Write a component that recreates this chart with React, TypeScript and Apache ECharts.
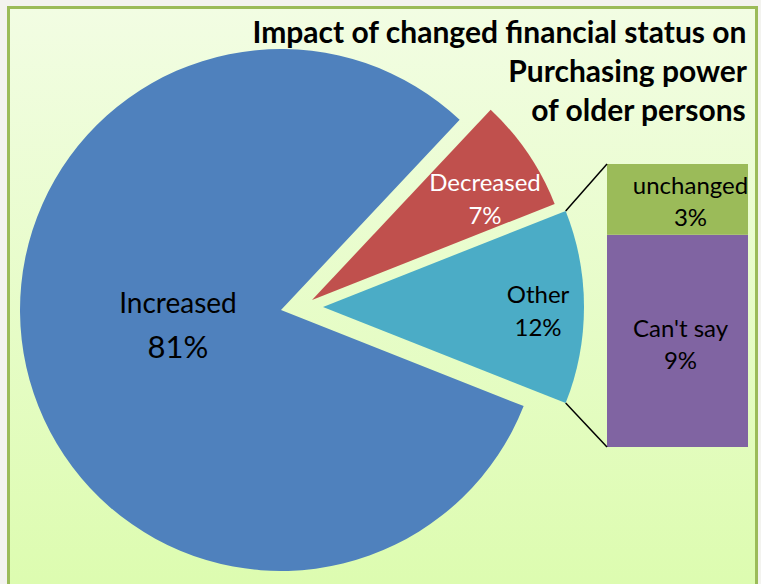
import React, { useEffect, useRef } from "react";
import * as echarts from "echarts";

// Main pie (Other holds the breakdown shown in the bar)
const PIE_CATS = ["Other", "Increased", "Decreased"];
const PIE_VALS = [12, 81, 7];
const PIE_COLORS = ["#4BACC6", "#4F81BD", "#C0504D"];
const PIE_LABEL_COLORS = ["#000000", "#000000", "#FFFFFF"];

// Breakdown of "Other" (bottom to top)
const BAR_CATS = ["Can't say", "unchanged"];
const BAR_VALS = [9, 3];
const BAR_COLORS = ["#8064A2", "#9BBB59"];

const TITLE_LINES = ["Impact of changed financial status on", "Purchasing power", "of older persons"];

// layout
const R = 261;
const CENTERS: [number, number][] = [
  [323, 307],
  [281, 310],
  [312, 300],
];
const LABEL_POS: [number, number][] = [
  [538, 310],
  [178, 324],
  [485, 198],
];
const GRID = { left: 607, top: 164, width: 141, height: 283 };
const FONT = "Lato";

export default function App() {
  const ref = useRef<HTMLDivElement>(null);
  useEffect(() => {
    document.body.style.margin = "0";
    document.body.style.background = "#F3F3EF";
    const chart = echarts.init(ref.current!, null, { renderer: "svg" });
    const total = PIE_VALS.reduce((a, b) => a + b, 0);
    const startAngle = (PIE_VALS[0] / total) * 180;

    const pieSeries = PIE_CATS.map((_, i) => ({
      type: "pie",
      center: CENTERS[i],
      radius: R,
      startAngle,
      clockwise: true,
      silent: true,
      avoidLabelOverlap: false,
      z: 2,
      itemStyle: { borderWidth: 0 },
      emphasis: { disabled: true },
      labelLine: { show: false },
      label: {
        position: "inside",
        fontFamily: FONT,
        color: PIE_LABEL_COLORS[i],
        formatter: i === 1 ? "{n|{b}}\n{v|{c}%}" : "{b}\n{c}%",
        fontSize: 24,
        lineHeight: 33,
        rich: {
          n: { fontSize: 28, lineHeight: 44, fontFamily: FONT, color: PIE_LABEL_COLORS[i] },
          v: { fontSize: 31, lineHeight: 44, fontFamily: FONT, color: PIE_LABEL_COLORS[i] },
        },
      },
      labelLayout: () => ({
        x: LABEL_POS[i][0],
        y: LABEL_POS[i][1],
        align: "center",
        verticalAlign: "middle",
      }),
      data: PIE_CATS.map((c, j) => ({
        name: c,
        value: PIE_VALS[j],
        itemStyle: { color: j === i ? PIE_COLORS[j] : "rgba(0,0,0,0)" },
        label: { show: j === i },
      })),
    }));

    const barSeries = BAR_CATS.map((c, k) => ({
      type: "bar",
      name: c,
      stack: "other",
      barWidth: "100%",
      silent: true,
      data: [BAR_VALS[k]],
      itemStyle: { color: BAR_COLORS[k] },
      label: {
        show: true,
        position: "inside",
        formatter: "{a}\n{c}%",
        fontFamily: FONT,
        fontSize: 24,
        lineHeight: 32,
        color: "#000",
        offset: k === 1 ? [13, 1] : [3, 3],
      },
    }));

    const barTotal = BAR_VALS.reduce((a, b) => a + b, 0);

    const bgGraphic = {
      type: "rect",
      z: -10,
      silent: true,
      shape: { x: 8.5, y: 7.5, width: 748, height: 600 },
      style: {
        fill: new echarts.graphic.LinearGradient(0, 0, 0, 1, [
          { offset: 0, color: "#F2FDE3" },
          { offset: 1, color: "#DCFCAE" },
        ]),
        stroke: "#9BBB59",
        lineWidth: 3,
      },
    };

    const titleGraphics = TITLE_LINES.map((t, i) => ({
      type: "text",
      z: 20,
      silent: true,
      right: 14,
      top: 16 + i * 39,
      style: {
        text: t,
        fontFamily: FONT,
        fontWeight: "bold",
        fontSize: 30,
        fill: "#000",
      },
    }));

    chart.setOption({
      animation: false,
      grid: { ...GRID, containLabel: false },
      xAxis: { type: "category", data: ["Other"], show: false },
      yAxis: { type: "value", min: 0, max: barTotal, show: false },
      graphic: [bgGraphic, ...titleGraphics],
      series: [...pieSeries, ...barSeries],
    });

    // connector lines from the Other slice edges to the bar's corners
    const toRad = (d: number) => (d * Math.PI) / 180;
    const oc = CENTERS[0];
    const aTop = toRad(startAngle);
    const aBot = toRad(-startAngle);
    const pTop = [oc[0] + R * Math.cos(aTop), oc[1] - R * Math.sin(aTop)];
    const pBot = [oc[0] + R * Math.cos(aBot), oc[1] - R * Math.sin(aBot)];
    const yTop = chart.convertToPixel({ yAxisIndex: 0 }, barTotal) as number;
    const yBot = chart.convertToPixel({ yAxisIndex: 0 }, 0) as number;
    const xLeft = GRID.left;
    chart.setOption({
      graphic: [
        bgGraphic,
        ...titleGraphics,
        {
          type: "line",
          z: 5,
          silent: true,
          shape: { x1: pTop[0], y1: pTop[1], x2: xLeft, y2: yTop },
          style: { stroke: "#000", lineWidth: 1.5 },
        },
        {
          type: "line",
          z: 5,
          silent: true,
          shape: { x1: pBot[0], y1: pBot[1], x2: xLeft, y2: yBot },
          style: { stroke: "#000", lineWidth: 1.5 },
        },
      ],
    });

    return () => chart.dispose();
  }, []);
  return <div ref={ref} style={{ width: 761, height: 584, background: "#F3F3EF" }} />;
}
